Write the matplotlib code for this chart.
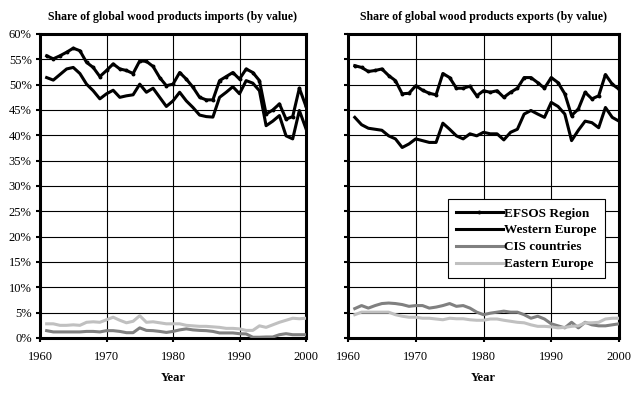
import matplotlib
matplotlib.use("Agg")
import matplotlib.pyplot as plt
from matplotlib.ticker import FuncFormatter, MultipleLocator

years = list(range(1961, 2001))

imp_efsos = [55.7, 55.1, 55.7, 56.4, 57.2, 56.7, 54.4, 53.4, 51.6, 52.8,
             54.1, 53.1, 52.8, 52.2, 54.7, 54.6, 53.6, 51.4, 49.8, 50.1,
             52.4, 51.1, 49.5, 47.5, 47.0, 47.0, 50.8, 51.6, 52.4, 51.1,
             53.1, 52.4, 50.8, 44.2, 45.0, 46.2, 43.2, 43.7, 49.3, 45.7]
imp_west = [51.4, 50.9, 52.0, 53.1, 53.4, 52.2, 50.1, 48.8, 47.2, 48.2,
            48.9, 47.5, 47.8, 48.0, 50.1, 48.5, 49.3, 47.5, 45.7, 46.8,
            48.5, 46.8, 45.5, 44.0, 43.7, 43.6, 47.5, 48.5, 49.6, 48.2,
            50.8, 50.3, 48.8, 41.9, 42.8, 43.9, 39.9, 39.3, 44.9, 41.3]
imp_cis = [1.45, 1.2, 1.2, 1.2, 1.2, 1.2, 1.3, 1.3, 1.2, 1.45,
           1.45, 1.3, 1.05, 1.05, 2.0, 1.5, 1.45, 1.3, 1.1, 1.3,
           1.6, 1.8, 1.6, 1.5, 1.45, 1.3, 1.0, 1.0, 1.0, 0.85,
           0.8, 0.15, 0.15, 0.2, 0.2, 0.65, 0.85, 0.65, 0.65, 0.65]
imp_east = [2.8, 2.8, 2.5, 2.5, 2.6, 2.5, 3.1, 3.2, 3.1, 3.6,
            4.1, 3.5, 3.0, 3.3, 4.4, 3.1, 3.2, 3.0, 2.8, 2.8,
            2.8, 2.5, 2.4, 2.3, 2.3, 2.2, 2.1, 1.9, 1.9, 1.8,
            1.5, 1.5, 2.4, 2.1, 2.6, 3.1, 3.5, 3.9, 3.8, 3.9]

exp_efsos = [53.75, 53.4, 52.6, 52.8, 53.1, 51.8, 50.8, 48.2, 48.3, 49.8,
             48.9, 48.3, 48.0, 52.2, 51.4, 49.3, 49.3, 49.7, 47.8, 48.8,
             48.5, 48.8, 47.5, 48.5, 49.3, 51.4, 51.4, 50.4, 49.3, 51.4,
             50.4, 48.2, 43.9, 45.2, 48.5, 47.2, 47.8, 52.0, 50.1, 49.1]
exp_west = [43.55, 42.1, 41.4, 41.2, 41.0, 39.9, 39.3, 37.6, 38.3, 39.3,
            38.95, 38.6, 38.6, 42.4, 41.2, 39.9, 39.3, 40.3, 39.9, 40.6,
            40.3, 40.3, 39.1, 40.6, 41.2, 44.2, 44.9, 44.2, 43.55, 46.5,
            45.7, 44.2, 38.95, 41.0, 42.8, 42.5, 41.5, 45.5, 43.55, 42.8]
exp_cis = [5.8, 6.4, 5.9, 6.4, 6.8, 6.9, 6.8, 6.6, 6.25, 6.4,
           6.4, 5.9, 6.1, 6.4, 6.8, 6.25, 6.4, 5.9, 5.1, 4.6,
           4.9, 5.1, 5.3, 5.1, 5.1, 4.6, 3.9, 4.3, 3.75, 2.8,
           2.4, 2.0, 3.1, 2.0, 3.1, 2.6, 2.4, 2.4, 2.6, 2.8]
exp_east = [4.6, 5.1, 5.1, 5.1, 5.1, 5.1, 4.6, 4.3, 4.1, 4.1,
            3.9, 3.9, 3.75, 3.6, 3.9, 3.8, 3.8, 3.6, 3.5, 3.5,
            3.75, 3.75, 3.5, 3.3, 3.1, 3.0, 2.6, 2.3, 2.3, 2.2,
            2.0, 2.1, 2.3, 2.4, 3.0, 3.0, 3.1, 3.75, 3.9, 3.9]

titles = ["Share of global wood products imports (by value)",
          "Share of global wood products exports (by value)"]
series_names = ["EFSOS Region", "Western Europe", "CIS countries", "Eastern Europe"]
colors = ["#000000", "#000000", "#808080", "#c0c0c0"]

plt.rcParams['font.family'] = ['Liberation Serif', 'DejaVu Serif']

fig = plt.figure(figsize=(6.42, 3.94), dpi=100)
ax1 = fig.add_axes([40/642, 1-338/394, 266/642, 304/394])
ax2 = fig.add_axes([348/642, 1-338/394, 271/642, 304/394])

data = [[imp_efsos, imp_west, imp_cis, imp_east],
        [exp_efsos, exp_west, exp_cis, exp_east]]

for i, ax in enumerate([ax1, ax2]):
    d = data[i]
    handles = []
    for j, (vals, name, c) in enumerate(zip(d, series_names, colors)):
        if j == 0:
            h, = ax.plot(years, vals, color=c, lw=2.2, marker='o', markersize=1.8,
                         label=name, zorder=3, solid_joinstyle='round')
        else:
            h, = ax.plot(years, vals, color=c, lw=2.2, label=name, zorder=3,
                         solid_joinstyle='round')
        handles.append(h)
    ax.set_xlim(1960, 2000)
    ax.set_ylim(0, 60)
    ax.xaxis.set_major_locator(MultipleLocator(10))
    ax.yaxis.set_major_locator(MultipleLocator(5))
    ax.grid(True, color='black', lw=0.8)
    ax.set_axisbelow(True)
    for s in ax.spines.values():
        s.set_linewidth(2.2)
    ax.tick_params(axis='both', direction='out', length=3, width=1.5,
                   labelsize=9, pad=3)
    ax.tick_params(axis='x', pad=6)
    ax.set_xlabel("Year", fontsize=9, fontweight='bold', labelpad=7)
    ax.set_title(titles[i], fontsize=8.5, fontweight='bold', pad=10)
    if i == 0:
        ax.yaxis.set_major_formatter(FuncFormatter(lambda v, p: f"{int(round(v))}%"))
    else:
        ax.set_yticklabels([])
        leg = ax.legend(handles=handles, loc='lower right',
                        bbox_to_anchor=(0.948, 0.197),
                        prop={'weight': 'bold', 'size': 9.5},
                        frameon=True, fancybox=False, framealpha=1,
                        edgecolor='black', handlelength=3.6, handletextpad=0.1,
                        borderpad=0.6, labelspacing=0.35, borderaxespad=0)
        leg.get_frame().set_linewidth(0.8)

fig.savefig("out.png", dpi=100)
